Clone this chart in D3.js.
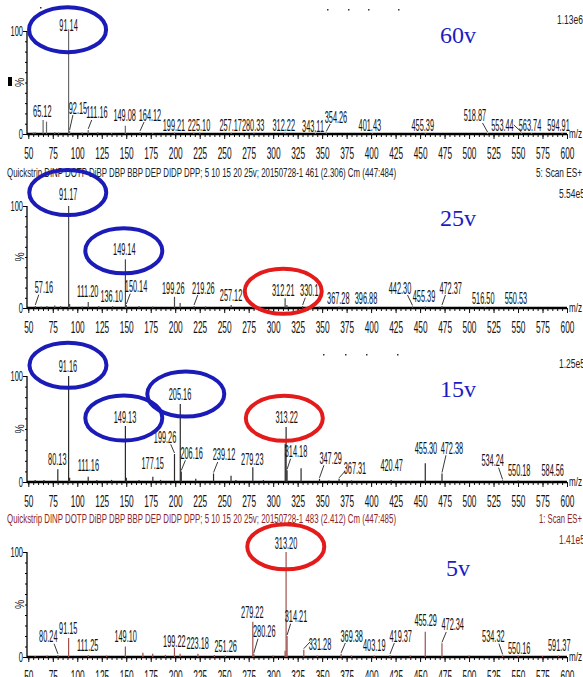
<!DOCTYPE html>
<html>
<head>
<meta charset="utf-8" />
<style>
body { margin:0; background:#fff; }
svg { display:block; }
text { font-family: "Liberation Sans", Arial, sans-serif; fill:#111; }
.volt { font-family: "Liberation Serif", "Times New Roman", serif; font-size:24px; fill:#1c1cc4; }
</style>
</head>
<body>
<svg id="chart" width="583" height="677"></svg>
<script src="https://cdn.jsdelivr.net/npm/d3@7"></script>
<script>

// ---- data: [m/z, % intensity] ----
var xTicks = d3.range(50, 601, 25);
var voltages = ["60v", "25v", "15v", "5v"];
var intensities = ["1.13e6", "5.54e5", "1.25e5", "1.41e5"];
var headers = [null,
	"Quickstrip DINP DOTP DiBP DBP BBP DEP DIDP DPP; 5 10 15 20 25v; 20150728-1 461 (2.306) Cm (447:484)",
	null,
	"Quickstrip DINP DOTP DiBP DBP BBP DEP DIDP DPP; 5 10 15 20 25v; 20150728-1 483 (2.412) Cm (447:485)"];
var scanNames = [null, "5: Scan ES+", null, "1: Scan ES+"];

var peaks60 = [[55,1.5],[57,2],[65.12,13.6],[68.6,12],[77,2],[81,1.5],[91.14,100],[92.15,3],[105,1.5],[111.16,4],[121,2],[135,1],
	[149.08,8],[164.12,2],[177,1],[199.21,1.5],[219,1.2],[225.1,1.5],[257.17,1.2],[280.33,1.2],[312.22,1.2],[343.11,1],[354.26,1.5],
	[401.43,1],[455.39,1],[518.87,1],[553.44,1],[563.74,1],[594.91,1]];
var peaks25 = [[57.16,2],[63,1.5],[69,2],[77,2.5],[83,2],[91.17,100],[92.2,4],[105,1.5],[111.2,6],[122,2],[136.1,2],[149.14,47.7],
	[150.14,3],[163,2],[177,1.5],[199.26,11],[205,5],[219.26,2],[231,1.5],[257.12,3],[279,1.5],[312.21,9.5],[314,3],[330.1,2],
	[347,1.5],[367.28,1.5],[396.88,1],[442.3,1.5],[455.39,1.5],[472.37,2],[516.5,1],[550.53,1]];
var peaks15 = [[57,2],[66,2],[80.13,12],[91.16,100],[92.2,4],[111.16,5],[120,2],[135,2],[149.13,52.8],[150.1,4],[163,2],[177.15,5],
	[185,2],[199.26,26.4],[205.16,73.6],[206.16,10],[221,3],[239.12,8],[257,6],[262,2],[279.23,14],[290,2],[312.3,36],[313.22,52],
	[314.18,11],[328.5,13],[347.29,3],[357,1.5],[367.31,3],[380,1.5],[420.47,2],[440,1],[455.3,17.6],[472.38,8],[490,1],
	[534.24,1.5],[550.18,1.5],[584.56,1]];
var peaks5 = [[57,1],[69,1.5],[80.24,2],[91.15,18],[111.25,2],[130,1.5],[149.1,10],[167,4],[177,3],[190,2],[199.22,9],[205,3],
	[223.18,3],[240,2],[251.26,1.5],[279.22,33.6],[280.26,3],[300,1.5],[312.2,6],[313.2,100],[314.21,20],[331.28,7],[345,1.5],
	[369.38,3],[380,1.5],[403.19,1.5],[419.37,2],[440,1.5],[455.29,24],[472.34,13],[500,1.5],[534.32,1.5],[550.16,1.5],
	[575,1],[591.37,1.5]];

// labels: [text, peak m/z, label m/z, label %, leader line]
var labels60 = [["91.14",91.14,91.1,105.8,0],["65.12",65.12,64.3,21.4,0],["92.15",92.15,100.7,25.2,1],["111.16",111.16,120.1,20.4,1],
	["149.08",149.08,148.4,17.5,0],["164.12",164.12,174.2,18.4,1],["199.21",199.21,198.7,8.7,0],["225.10",225.1,224.3,8.7,0],
	["257.17",257.17,256.6,8.7,0],["280.33",280.33,279.6,8.7,0],["312.22",312.22,310.8,8.7,0],["343.11",343.11,340.7,6.8,0],
	["354.26",354.26,364.1,16.5,1],["401.43",401.43,398.7,8.7,0],["455.39",455.39,452.7,8.7,0],["518.87",518.87,506,17.5,1],
	["553.44",553.44,534.1,8.7,1],["563.74",563.74,562.2,8.7,0],["594.91",594.91,591.3,8.7,0]];
var labels25 = [["57.16",57.16,66,19.9,1],["91.17",91.17,90.8,110.8,0],["111.20",111.2,110.6,16,0],["136.10",136.1,135.1,11.1,0],
	["149.14",149.14,148,56.9,0],["150.14",150.14,160,20.9,1],["199.26",199.26,198,19.3,0],["219.26",219.26,228.7,19.6,1],
	["257.12",257.12,257,12.7,0],["312.21",312.21,310.3,17.6,0],["330.1",330.1,336.9,17,1],["367.28",367.28,366.5,9.5,0],
	["396.88",396.88,394.8,9.8,0],["442.30",442.3,429.5,19.6,1],["455.39",455.39,454,10.8,0],["472.37",472.37,481.2,19.6,1],
	["516.50",516.5,514.5,9.8,0],["550.53",550.53,547.8,9.8,0]];
var labels15 = [["80.13",80.13,79.6,21.4,0],["91.16",91.16,90.5,108.8,0],["111.16",111.16,111.3,16,0],["149.13",149.13,148.7,61,0],
	["177.15",177.15,177,17,0],["199.26",199.26,189.6,42.2,1],["205.16",205.16,204.9,82.1,0],["206.16",206.16,216.8,27.1,1],
	["239.12",239.12,249.8,25.5,1],["279.23",279.23,278.7,21.4,0],["313.22",313.22,313.8,61,0],["314.18",314.18,323.3,28.6,1],
	["347.29",347.29,358.7,22.4,1],["367.31",367.31,383.5,12.9,1],["420.47",420.47,421,16,0],["455.30",455.3,456,31.8,0],
	["472.38",472.38,482.5,31.8,1],["534.24",534.24,524.1,20.1,1],["550.18",550.18,551.2,11.3,0],["584.56",584.56,585.4,11.3,0]];
var labels5 = [["80.24",80.24,70.4,19.3,1],["91.15",91.15,90.8,27.3,0],["111.25",111.25,110.6,11.4,0],["149.10",149.1,149.4,19.3,0],
	["199.22",199.22,199.1,14.6,0],["223.18",223.18,222.9,13,0],["251.26",251.26,251.5,9.8,0],["279.22",279.22,278.7,42.2,0],
	["280.26",280.26,290.9,24.1,1],["313.20",313.2,313.1,108.3,0],["314.21",314.21,323.3,38.4,1],["331.28",331.28,347.8,12.1,1],
	["369.38",369.38,380.2,20,1],["403.19",403.19,403.2,11.4,0],["419.37",419.37,430.2,20,1],["455.29",455.29,455.7,34.6,0],
	["472.34",472.34,483.3,30.5,1],["534.32",534.32,524.8,19.3,1],["550.16",550.16,551.2,8.3,0],["591.37",591.37,592.1,11.4,0]];

// highlighted ions: [m/z, %, colour]
var circles60 = [[90.1,101.3,"blue"]];
var circles25 = [[90.3,113.2,"blue"],[147.5,56.1,"blue"],[310.3,16.4,"red"]];
var circles15 = [[90.5,110.1,"blue"],[147.5,60.4,"blue"],[210.8,83,"blue"],[311.4,60.1,"red"]];
var circles5 = [[312.9,105,"red"]];

// ---- layout ----
var svg = d3.select("#chart");
var panels = [
	{ top:31,  base:134, peaks:peaks60, labels:labels60, circles:circles60, color:"#6a6a6a", voltY:43 },
	{ top:206, base:308, peaks:peaks25, labels:labels25, circles:circles25, color:"#4a4a4a", voltY:226 },
	{ top:376, base:482, peaks:peaks15, labels:labels15, circles:circles15, color:"#2a2a2a", voltY:397 },
	{ top:552, base:657, peaks:peaks5,  labels:labels5,  circles:circles5,  color:"#a0504c", voltY:576 }
];
var ringColor = { blue:"#1b1bb8", red:"#e41b1b" };

var x = d3.scaleLinear().domain([50, 600]).range([28.3, 567]);
var axisX = 27;

function squeezed(g, str, px, py, size, sx, anchor) {
	return g.append("text")
		.attr("transform", "translate(" + px + "," + py + ") scale(" + sx + ",1)")
		.attr("text-anchor", anchor || "middle")
		.attr("font-size", size)
		.text(str);
}

panels.forEach(function(p, i) {
	var g = svg.append("g");
	var y = d3.scaleLinear().domain([0, 100]).range([p.base, p.top]);

	// header lines
	if (headers[i]) {
		var hc = i == 3 ? "#8b2525" : "#222";
		g.append("text").attr("x", 7).attr("y", p.top - 29).attr("font-size", 12.5)
			.attr("textLength", 389).attr("lengthAdjust", "spacingAndGlyphs")
			.style("fill", hc).text(headers[i]);
		g.append("text").attr("x", i == 3 ? 539 : 536).attr("y", p.top - 29).attr("font-size", 12.5)
			.attr("textLength", i == 3 ? 43 : 46).attr("lengthAdjust", "spacingAndGlyphs")
			.style("fill", hc).text(scanNames[i]);
	}
	g.append("text").attr("x", i == 0 ? 557 : 559).attr("y", p.top - (i == 0 ? 7 : 8)).attr("font-size", 12.5)
		.attr("textLength", 26).attr("lengthAdjust", "spacingAndGlyphs")
		.style("fill", i == 3 ? "#8b2525" : "#222").text(intensities[i]);

	// x axis
	var minor = g.append("g").attr("transform", "translate(0," + p.base + ")")
		.call(d3.axisBottom(x).tickValues(d3.range(50, 601, 5)).tickSize(3).tickSizeOuter(0).tickFormat(""));
	minor.select(".domain").remove();
	var major = g.append("g").attr("transform", "translate(0," + p.base + ")")
		.call(d3.axisBottom(x).tickValues(xTicks).tickSize(5).tickSizeOuter(0));
	major.select(".domain").attr("stroke-width", 2.4).attr("d", "M" + axisX + ",0H" + x(600));
	major.selectAll(".tick text").attr("y", 25).attr("dy", 0).attr("font-size", 16)
		.attr("transform", "scale(0.52,1)").style("font-family", "Liberation Sans, Arial").style("fill", "#111");
	g.selectAll(".tick line").attr("stroke", "#111");
	squeezed(g, "m/z", 569, p.base + 4, 13, 0.62, "start");

	// y axis
	var ya = g.append("g").attr("transform", "translate(" + axisX + ",0)")
		.call(d3.axisLeft(y).tickValues(d3.range(0, 101, 10)).tickSize(2).tickFormat(""));
	ya.select(".domain").attr("stroke-width", 1.3).attr("d", "M0," + y(0) + "V" + y(100));
	ya.selectAll(".tick line").filter(function(d) { return d == 0 || d == 100; }).attr("x2", -4);
	squeezed(g, "100", axisX - 4, y(100) + 5, 15, 0.5, "end");
	squeezed(g, "0", axisX - 4, y(0) + 5, 15, 0.5, "end");
	g.append("text").attr("transform", "translate(" + (axisX - 3) + "," + y(50) + ") rotate(-90) scale(0.8,1)")
		.attr("text-anchor", "middle").attr("font-size", 13).text("%");

	// peaks
	g.append("g").selectAll("line").data(p.peaks).join("line")
		.attr("x1", function(d) { return x(d[0]); }).attr("x2", function(d) { return x(d[0]); })
		.attr("y1", y(0)).attr("y2", function(d) { return y(d[1]); })
		.attr("stroke", p.color).attr("stroke-width", 1.2);

	// peak labels and leader lines
	var byMz = {};
	p.peaks.forEach(function(d) { byMz[d[0]] = d[1]; });
	p.labels.forEach(function(l) {
		var lx = x(l[2]), ly = y(l[3]);
		squeezed(g, l[0], lx, ly + 5.5, 16, 0.46, "middle");
		if (l[4]) {
			var px = x(l[1]);
			var sy = Math.min(y(byMz[l[1]] || 1) - 1, y(0) - 1);
			var ex = px + (lx - px) * 0.4;
			var ey = Math.min(ly + 7, sy - 7);
			g.append("line").attr("x1", px).attr("y1", sy).attr("x2", ex).attr("y2", ey)
				.attr("stroke", "#222").attr("stroke-width", 0.9);
		}
	});

	// rings
	g.selectAll("ellipse").data(p.circles).join("ellipse")
		.attr("cx", function(d) { return x(d[0]); }).attr("cy", function(d) { return y(d[1]); })
		.attr("rx", 38.5).attr("ry", 22.5)
		.attr("fill", "none").attr("stroke", function(d) { return ringColor[d[2]]; }).attr("stroke-width", 4);

	g.append("text").attr("class", "volt").attr("x", 458).attr("y", p.voltY)
		.attr("text-anchor", "middle").text(voltages[i]);
});

// small marks left in the scan
svg.append("rect").attr("x", 8).attr("y", 77).attr("width", 4).attr("height", 9).attr("fill", "#000");
[[40,7],[327,9],[348,9],[368,9],[398,9],[323,354],[345,354],[366,354],[397,354]].forEach(function(d) {
	svg.append("rect").attr("x", d[0]).attr("y", d[1]).attr("width", 1.5).attr("height", 1.5).attr("fill", "#333");
});

</script>
</body>
</html>
